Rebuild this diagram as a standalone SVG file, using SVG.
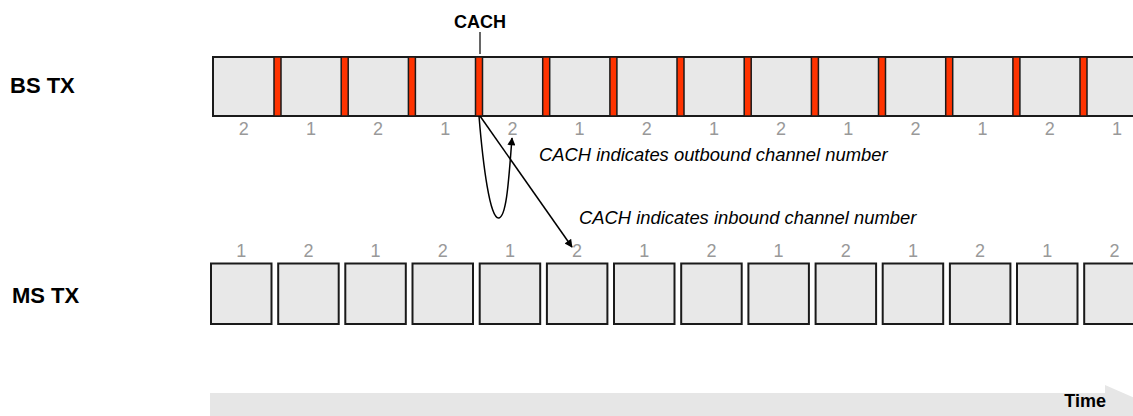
<svg xmlns="http://www.w3.org/2000/svg" width="1133" height="416" viewBox="0 0 1133 416">
<style>
.lbl{font-family:"Liberation Sans",Arial,sans-serif;font-weight:bold;fill:#000}
.num{font-family:"Liberation Sans",Arial,sans-serif;font-size:18px;fill:#999999;text-anchor:middle}
.note{font-family:"Liberation Sans",Arial,sans-serif;font-style:italic;font-size:18.4px;fill:#000}
.slot{fill:#e8e8e8;stroke:#1a1a1a;stroke-width:2}
.cach{fill:#ff3300;stroke:#1a1a1a;stroke-width:1.5}
.conn{fill:none;stroke:#000;stroke-width:1.5}
</style>
<defs>
<marker id="ah" viewBox="0 0 10 10" refX="9" refY="5" markerWidth="11" markerHeight="8" markerUnits="userSpaceOnUse" orient="auto">
<path d="M0,0 L10,5 L0,10 Z" fill="#000"/>
</marker>
</defs>

<g id="time-arrow">
<polygon points="210,393 1105,393 1105,385 1165,411 1105,437 1105,430 210,430" fill="#e6e6e6"/>
<text class="lbl" x="1106" y="407" font-size="18" text-anchor="end">Time</text>
</g>

<g id="bs-label"><text class="lbl" x="10" y="93" font-size="22">BS TX</text></g>
<g id="ms-label"><text class="lbl" x="12" y="303" font-size="22">MS TX</text></g>

<g id="bs-tx">
<rect class="slot" x="213" y="57" width="940" height="59"/>
<rect class="cach" x="274" y="57" width="7" height="59"/>
<rect class="cach" x="341.2" y="57" width="7" height="59"/>
<rect class="cach" x="408.4" y="57" width="7" height="59"/>
<rect class="cach" x="475.5" y="57" width="7" height="59"/>
<rect class="cach" x="542.7" y="57" width="7" height="59"/>
<rect class="cach" x="609.9" y="57" width="7" height="59"/>
<rect class="cach" x="677.0" y="57" width="7" height="59"/>
<rect class="cach" x="744.2" y="57" width="7" height="59"/>
<rect class="cach" x="811.4" y="57" width="7" height="59"/>
<rect class="cach" x="878.5" y="57" width="7" height="59"/>
<rect class="cach" x="945.7" y="57" width="7" height="59"/>
<rect class="cach" x="1012.9" y="57" width="7" height="59"/>
<rect class="cach" x="1080.0" y="57" width="7" height="59"/>
<text class="num" x="243.7" y="135">2</text>
<text class="num" x="310.9" y="135">1</text>
<text class="num" x="378.0" y="135">2</text>
<text class="num" x="445.2" y="135">1</text>
<text class="num" x="512.4" y="135">2</text>
<text class="num" x="579.6" y="135">1</text>
<text class="num" x="646.7" y="135">2</text>
<text class="num" x="713.9" y="135">1</text>
<text class="num" x="781.1" y="135">2</text>
<text class="num" x="848.3" y="135">1</text>
<text class="num" x="915.4" y="135">2</text>
<text class="num" x="982.6" y="135">1</text>
<text class="num" x="1049.8" y="135">2</text>
<text class="num" x="1116.9" y="135">1</text>
</g>

<g id="cach-label">
<text class="lbl" x="480" y="28" font-size="18" text-anchor="middle">CACH</text>
<line x1="480" y1="32" x2="480" y2="54" stroke="#000" stroke-width="1.2"/>
</g>

<g id="ms-tx">
<rect class="slot" x="211" y="263.5" width="60.5" height="60.5"/>
<rect class="slot" x="278.2" y="263.5" width="60.5" height="60.5"/>
<rect class="slot" x="345.3" y="263.5" width="60.5" height="60.5"/>
<rect class="slot" x="412.5" y="263.5" width="60.5" height="60.5"/>
<rect class="slot" x="479.7" y="263.5" width="60.5" height="60.5"/>
<rect class="slot" x="546.9" y="263.5" width="60.5" height="60.5"/>
<rect class="slot" x="614.0" y="263.5" width="60.5" height="60.5"/>
<rect class="slot" x="681.2" y="263.5" width="60.5" height="60.5"/>
<rect class="slot" x="748.4" y="263.5" width="60.5" height="60.5"/>
<rect class="slot" x="815.6" y="263.5" width="60.5" height="60.5"/>
<rect class="slot" x="882.7" y="263.5" width="60.5" height="60.5"/>
<rect class="slot" x="949.9" y="263.5" width="60.5" height="60.5"/>
<rect class="slot" x="1017.0" y="263.5" width="60.5" height="60.5"/>
<rect class="slot" x="1084.2" y="263.5" width="60.5" height="60.5"/>
<text class="num" x="241.3" y="257">1</text>
<text class="num" x="308.4" y="257">2</text>
<text class="num" x="375.6" y="257">1</text>
<text class="num" x="442.8" y="257">2</text>
<text class="num" x="509.9" y="257">1</text>
<text class="num" x="577.1" y="257">2</text>
<text class="num" x="644.3" y="257">1</text>
<text class="num" x="711.4" y="257">2</text>
<text class="num" x="778.6" y="257">1</text>
<text class="num" x="845.8" y="257">2</text>
<text class="num" x="913.0" y="257">1</text>
<text class="num" x="980.1" y="257">2</text>
<text class="num" x="1047.3" y="257">1</text>
<text class="num" x="1114.5" y="257">2</text>
</g>

<g id="connectors">
<path class="conn" d="M479,116 C483,165 490,220 499,218 C507,216 509,175 512,138" marker-end="url(#ah)"/>
<line class="conn" x1="480" y1="116" x2="572" y2="247" marker-end="url(#ah)"/>
</g>

<g id="notes">
<text class="note" x="539" y="161">CACH indicates outbound channel number</text>
<text class="note" x="579" y="224">CACH indicates inbound channel number</text>
</g>
</svg>
